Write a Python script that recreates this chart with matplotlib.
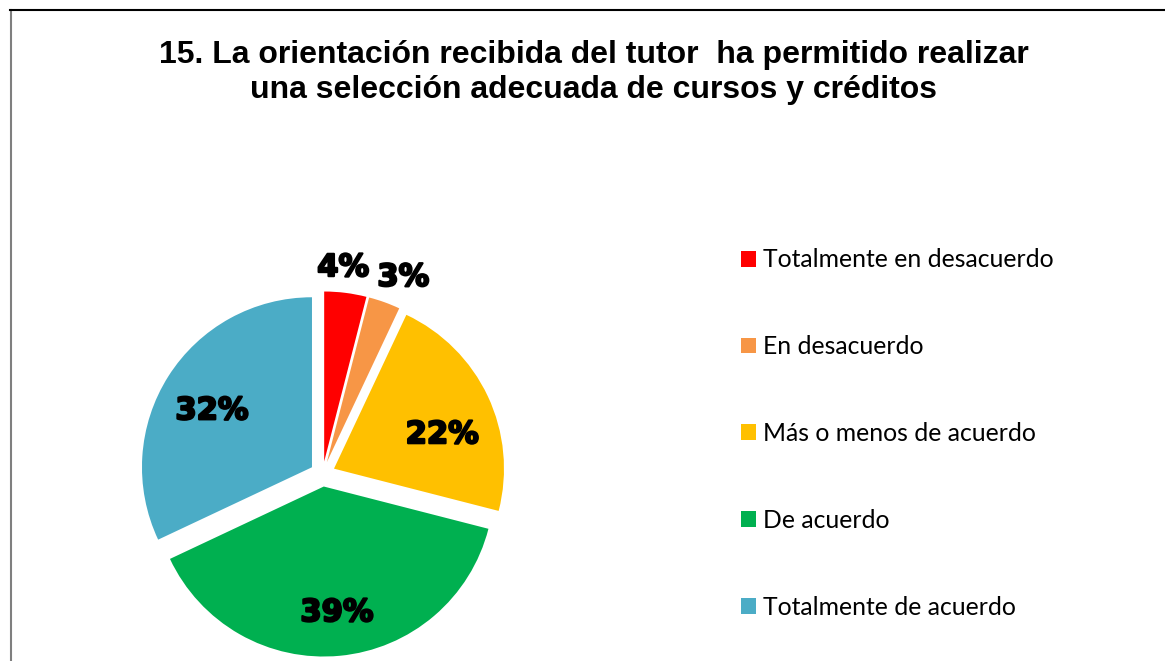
import matplotlib
matplotlib.use("Agg")
import matplotlib.pyplot as plt
from matplotlib.patches import Patch
from matplotlib.lines import Line2D
import matplotlib.patheffects as pe
import numpy as np

categories = ["Totalmente en desacuerdo", "En desacuerdo", "Más o menos de acuerdo",
              "De acuerdo", "Totalmente de acuerdo"]
values = [4, 3, 22, 39, 32]
colors = ["#FF0000", "#F79646", "#FFC000", "#00B050", "#4BACC6"]
title = "15. La orientación recibida del tutor  ha permitido realizar\nuna selección adecuada de cursos y créditos"

# label placement (distance from pie centre in radii, angular tweak in degrees)
label_radius = [1.22, 1.25, 0.74, 0.82, 0.75]
label_shift = [1.5, -2.5, -7.0, 0.5, 2.7]

W, H = 1165, 661
fig = plt.figure(figsize=(W / 100, H / 100), dpi=100)

R = 170.0
cx, cy = 322.6, 474.0
half = 1.5 * R
ax = fig.add_axes([(cx - half) / W, (H - cy - half) / H, 2 * half / W, 2 * half / H])

wedges, texts, autotexts = ax.pie(
    values, colors=colors, startangle=90, counterclock=False,
    explode=[0.074] * len(values), autopct="%d%%", pctdistance=0.68,
    wedgeprops=dict(linewidth=0),
    textprops=dict(fontsize=22, fontweight="bold", family="DejaVu Sans", color="black"))
ax.set_xlim(-1.5, 1.5)
ax.set_ylim(-1.5, 1.5)
ax.set_aspect("equal")
ax.axis("off")

for t, w, r, s in zip(autotexts, wedges, label_radius, label_shift):
    th = np.deg2rad((w.theta1 + w.theta2) / 2 + s)
    t.set_position((r * np.cos(th), r * np.sin(th)))
    t.set_clip_on(False)
    t.set_path_effects([pe.withStroke(linewidth=1.6, foreground="black")])

fig.text(594 / W, 1 - 72.5 / H, title, ha="center", va="center", fontsize=23,
         fontweight="bold", family="Liberation Sans", linespacing=1.2)

handles = [Patch(facecolor=c, edgecolor="none") for c in colors]
leg = fig.legend(handles, categories, loc="center left",
                 bbox_to_anchor=(741 / W, 1 - 433.5 / H), frameon=False,
                 prop=dict(family="Lato", size=17.8), handlelength=0.6,
                 handleheight=0.6, handletextpad=0.3, labelspacing=2.58,
                 borderaxespad=0, borderpad=0)

# chart frame
fig.add_artist(Line2D([10.5 / W, 10.5 / W], [0, 1 - 10 / H], color="#7F7F7F", lw=1.5,
                      transform=fig.transFigure))
fig.add_artist(Line2D([10 / W, 1], [1 - 10 / H, 1 - 10 / H], color="black", lw=1.5,
                      transform=fig.transFigure))

fig.savefig("out.png", dpi=100, facecolor="white")
